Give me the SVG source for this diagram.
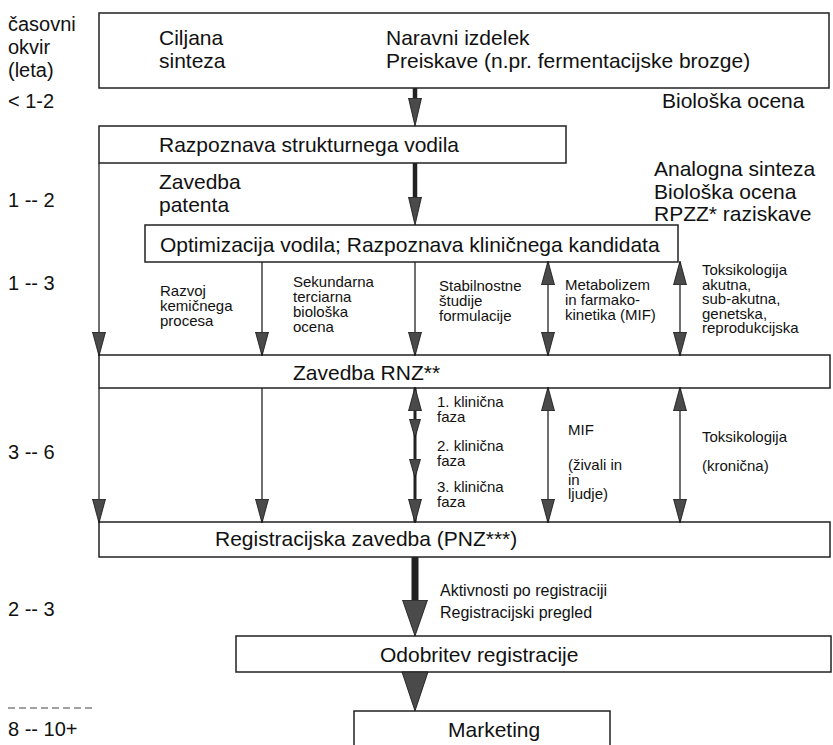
<svg xmlns="http://www.w3.org/2000/svg" width="833" height="745" viewBox="0 0 833 745">
<style>
text{font-family:"Liberation Sans",Arial,Helvetica,sans-serif;fill:#111}
.L{font-size:21px}
.T{font-size:20px}
.S{font-size:15px}
.M{font-size:16px}
.box{fill:#fff;stroke:#222;stroke-width:1.5}
.c{stroke:#222;stroke-width:1.3;fill:none}
.cm{stroke:#222;stroke-width:3;fill:none}
.ct{stroke:#222;stroke-width:4.5;fill:none}
.cb{stroke:#222;stroke-width:7;fill:none}
.hd{fill:#4a4a4a;stroke:#111;stroke-width:0.8}
</style>
<defs>
<marker id="h" viewBox="0 0 24 14" refX="23" refY="7" markerWidth="24" markerHeight="14" markerUnits="userSpaceOnUse" orient="auto-start-reverse"><path class="hd" d="M0,0.5 L24,7 L0,13.5 Z"/></marker>
<marker id="hs" viewBox="0 0 19 12" refX="18" refY="6" markerWidth="19" markerHeight="12" markerUnits="userSpaceOnUse" orient="auto-start-reverse"><path class="hd" d="M0,0.5 L19,6 L0,11.5 Z"/></marker>
<marker id="ht" viewBox="0 0 28 14" refX="8" refY="7" markerWidth="28" markerHeight="14" markerUnits="userSpaceOnUse" orient="auto"><path class="hd" d="M0,0.5 L28,7 L0,13.5 Z"/></marker>
<marker id="hb" viewBox="0 0 36 26" refX="10" refY="13" markerWidth="36" markerHeight="26" markerUnits="userSpaceOnUse" orient="auto"><path class="hd" d="M0,0.5 L36,13 L0,25.5 Z"/></marker>
</defs>
<rect width="833" height="745" fill="#fff"/>

<g id="timeline">
<text class="T" x="8" y="31">časovni</text>
<text class="T" x="8" y="54">okvir</text>
<text class="T" x="8" y="77">(leta)</text>
<text class="T" x="8" y="108">&lt; 1-2</text>
<text class="T" x="8" y="207">1 -- 2</text>
<text class="T" x="8" y="290">1 -- 3</text>
<text class="T" x="8" y="459">3 -- 6</text>
<text class="T" x="8" y="616">2 -- 3</text>
<line x1="8" y1="708" x2="95" y2="708" stroke="#444" stroke-width="1.2" stroke-dasharray="7,4"/>
<text class="T" x="8" y="736">8 -- 10+</text>
</g>

<g id="n-zacetek">
<rect class="box" x="99" y="13" width="730" height="75"/>
<text class="L" x="159" y="45">Ciljana</text>
<text class="L" x="159" y="68">sinteza</text>
<text class="L" x="386" y="45">Naravni izdelek</text>
<text class="L" x="386" y="68">Preiskave (n.pr. fermentacijske brozge)</text>
</g>

<g id="n-razpoznava">
<rect class="box" x="99" y="126" width="467" height="37"/>
<text class="L" x="159" y="152">Razpoznava strukturnega vodila</text>
</g>

<g id="n-optimizacija">
<rect class="box" x="145" y="225" width="533" height="37"/>
<text class="L" x="160" y="252">Optimizacija vodila; Razpoznava kliničnega kandidata</text>
</g>

<g id="n-rnz">
<rect class="box" x="99" y="355" width="731" height="33"/>
<text class="L" x="293" y="380">Zavedba RNZ**</text>
</g>

<g id="n-pnz">
<rect class="box" x="99" y="522" width="731" height="35"/>
<text class="L" x="215" y="546">Registracijska zavedba (PNZ***)</text>
</g>

<g id="n-odobritev">
<rect class="box" x="236" y="636" width="595" height="36"/>
<text class="L" x="380" y="662">Odobritev registracije</text>
</g>

<g id="n-marketing">
<path class="box" d="M354,760 V711 H610 V760"/>
<text class="L" x="448" y="737">Marketing</text>
</g>

<g id="labels">
<text class="L" x="662" y="108">Biološka ocena</text>
<text class="L" x="159" y="189">Zavedba</text>
<text class="L" x="159" y="212">patenta</text>
<text class="L" x="654" y="176">Analogna sinteza</text>
<text class="L" x="654" y="199">Biološka ocena</text>
<text class="L" x="654" y="221">RPZZ* raziskave</text>

<text class="S" x="160" y="296">Razvoj</text>
<text class="S" x="160" y="311">kemičnega</text>
<text class="S" x="160" y="326">procesa</text>

<text class="S" x="293" y="287">Sekundarna</text>
<text class="S" x="293" y="302">terciarna</text>
<text class="S" x="293" y="317">biološka</text>
<text class="S" x="293" y="332">ocena</text>

<text class="S" x="439" y="291">Stabilnostne</text>
<text class="S" x="439" y="306">študije</text>
<text class="S" x="439" y="321">formulacije</text>

<text class="S" x="565" y="290">Metabolizem</text>
<text class="S" x="565" y="305">in farmako-</text>
<text class="S" x="565" y="320">kinetika (MIF)</text>

<text class="S" x="702" y="275">Toksikologija</text>
<text class="S" x="702" y="289.5">akutna,</text>
<text class="S" x="702" y="304">sub-akutna,</text>
<text class="S" x="702" y="318.5">genetska,</text>
<text class="S" x="702" y="333">reprodukcijska</text>

<text class="S" x="437" y="407">1. klinična</text>
<text class="S" x="437" y="422">faza</text>
<text class="S" x="437" y="451">2. klinična</text>
<text class="S" x="437" y="466">faza</text>
<text class="S" x="437" y="492">3. klinična</text>
<text class="S" x="437" y="507">faza</text>

<text class="S" x="568" y="435">MIF</text>
<text class="S" x="568" y="470">(živali in</text>
<text class="S" x="568" y="485">in</text>
<text class="S" x="568" y="499">ljudje)</text>

<text class="S" x="702" y="442">Toksikologija</text>
<text class="S" x="702" y="471">(kronična)</text>

<text class="M" x="440" y="596">Aktivnosti po registraciji</text>
<text class="M" x="440" y="618">Registracijski pregled</text>
</g>

<g id="connectors">
<line class="ct" x1="415" y1="88" x2="415" y2="106" marker-end="url(#ht)"/>
<line class="ct" x1="415" y1="163" x2="415" y2="205" marker-end="url(#ht)"/>

<line class="c" x1="99" y1="163" x2="99" y2="355" marker-end="url(#h)"/>
<line class="c" x1="262" y1="262" x2="262" y2="355" marker-end="url(#h)"/>
<line class="c" x1="415" y1="262" x2="415" y2="355" marker-end="url(#h)"/>
<line class="c" x1="548" y1="262" x2="548" y2="355" marker-start="url(#h)" marker-end="url(#h)"/>
<line class="c" x1="680" y1="262" x2="680" y2="355" marker-start="url(#h)" marker-end="url(#h)"/>

<line class="c" x1="99" y1="388" x2="99" y2="522" marker-end="url(#h)"/>
<line class="c" x1="262" y1="388" x2="262" y2="522" marker-end="url(#h)"/>
<line class="cm" x1="415" y1="388" x2="415" y2="437" marker-start="url(#h)" marker-end="url(#hs)"/>
<line class="cm" x1="415" y1="437" x2="415" y2="477" marker-end="url(#hs)"/>
<line class="cm" x1="415" y1="477" x2="415" y2="522" marker-end="url(#h)"/>
<line class="c" x1="548" y1="388" x2="548" y2="522" marker-start="url(#h)" marker-end="url(#h)"/>
<line class="c" x1="680" y1="388" x2="680" y2="522" marker-start="url(#h)" marker-end="url(#h)"/>

<line class="cb" x1="415" y1="557" x2="415" y2="610" marker-end="url(#hb)"/>
<path class="hd" d="M402,672 L428,672 L415,711 Z"/>
</g>
</svg>
